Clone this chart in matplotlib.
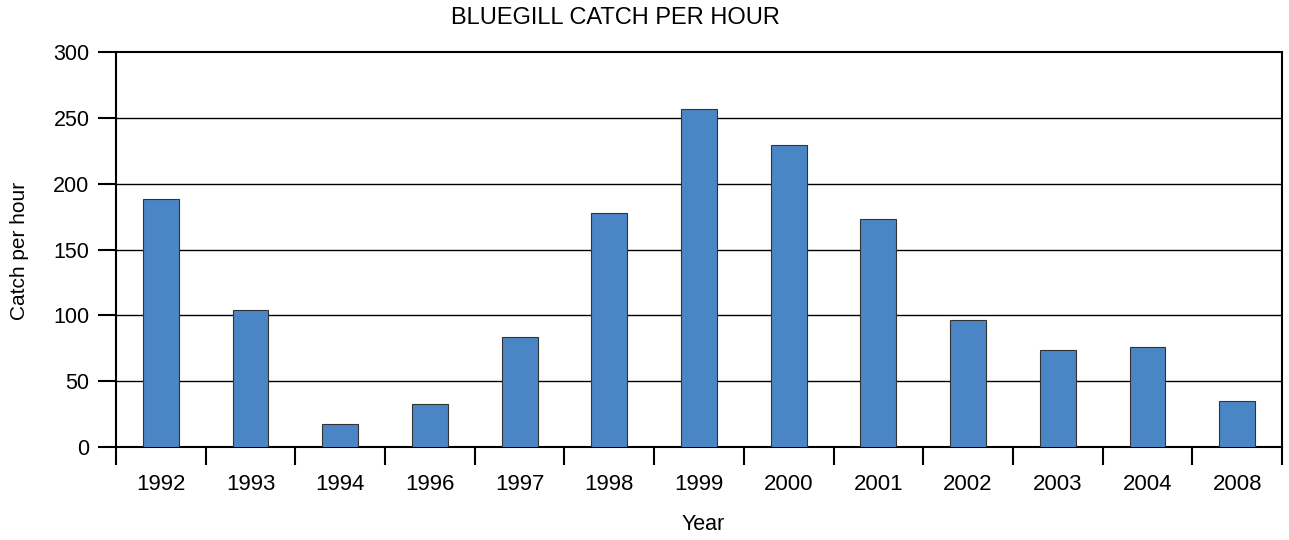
import numpy as np
import matplotlib.pyplot as plt

plt.rcParams['font.family'] = ['Liberation Sans', 'DejaVu Sans']

years = ["1992", "1993", "1994", "1996", "1997", "1998", "1999",
         "2000", "2001", "2002", "2003", "2004", "2008"]
catch = [188, 104, 17.5, 33, 83.5, 178, 257, 229, 173, 96.5, 73.5, 76, 35]

fig = plt.figure(figsize=(12.89, 5.4), dpi=100)
ax = fig.add_axes([116/1289, 1 - 447/540, (1282-116)/1289, (447-52)/540])

x = np.arange(len(years))
ax.bar(x, catch, width=0.4, color="#4a86c5", edgecolor="#333333", linewidth=0.8, zorder=3)

ax.set_xlim(-0.5, len(years) - 0.5)
ax.set_ylim(0, 300)
ax.set_yticks(range(0, 301, 50))
for v in range(50, 300, 50):
    ax.axhline(v, color="black", linewidth=1, zorder=1)

# ticks sit between categories, labels under each bar
ax.set_xticks(np.arange(-0.5, len(years), 1.0))
ax.set_xticklabels([])
ax.tick_params(axis="x", direction="out", length=13, width=1.5)
ax.tick_params(axis="y", direction="out", length=13, width=1.5, labelsize=15.5, pad=6)
for i, lab in enumerate(years):
    ax.text(i, -0.095, lab, transform=ax.get_xaxis_transform(),
            ha="center", va="center", fontsize=16)

for s in ax.spines.values():
    s.set_linewidth(1.5)

fig.text(615/1289, 1 - 18/540, "BLUEGILL CATCH PER HOUR", ha="center", va="center", fontsize=17)
fig.text(703/1289, 1 - 524/540, "Year", ha="center", va="center", fontsize=15.5)
fig.text(20/1289, 1 - 251/540, "Catch per hour", ha="center", va="center",
         rotation=90, fontsize=15)

fig.savefig("out.png", dpi=100)
